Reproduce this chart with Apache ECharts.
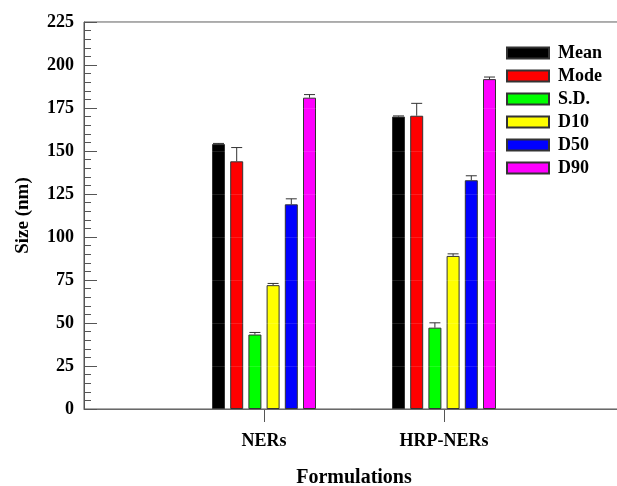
<!DOCTYPE html>
<html>
<head>
<meta charset="utf-8">
<script src="https://cdn.jsdelivr.net/npm/echarts@6/dist/echarts.min.js"></script>
<style>
  html, body { margin: 0; padding: 0; background: #fff; }
  #chart { width: 617px; height: 486px; }
</style>
</head>
<body>
<div id="chart"></div>
<script>
// categories (blank ends give the empty space either side)
const categories = ['', 'NERs', 'HRP-NERs', '']
const seriesNames = ['Mean', 'Mode', 'S.D.', 'D10', 'D50', 'D90']
const seriesColors = ['#000000', '#ff0000', '#00ff00', '#ffff00', '#0000ff', '#ff00ff']

// values per formulation: [NERs, HRP-NERs]
const meanValues = [154, 170]
const modeValues = [144, 170.5]
const sdValues = [43.3, 47.3]
const d10Values = [72, 89]
const d50Values = [119, 133]
const d90Values = [181, 191.8]

// upper error (nm)
const meanErrors = [0.4, 0.4]
const modeErrors = [8, 7.2]
const sdErrors = [1.2, 2.8]
const d10Errors = [1, 1.2]
const d50Errors = [3.2, 2.6]
const d90Errors = [1.8, 1.2]

const allValues = [meanValues, modeValues, sdValues, d10Values, d50Values, d90Values]
const allErrors = [meanErrors, modeErrors, sdErrors, d10Errors, d50Errors, d90Errors]

const BAR_WIDTH = 13
const BAR_GAP = 5.2
const FONT = 'Liberation Serif'

const chart = echarts.init(document.getElementById('chart'))

const barSeries = seriesNames.map((name, i) => ({
  name: name,
  type: 'bar',
  data: [null, allValues[i][0], allValues[i][1], null],
  barWidth: BAR_WIDTH,
  barGap: (BAR_GAP / BAR_WIDTH * 100).toFixed(0) + '%',
  itemStyle: {
    color: seriesColors[i],
    borderColor: '#333',
    borderWidth: 1
  },
  z: 2
}))

// error bar data: [category index, series index, value, error]
const errorData = []
allValues.forEach((vals, s) => {
  vals.forEach((v, c) => {
    errorData.push([c + 1, s, v, allErrors[s][c]])
  })
})

const errorSeries = {
  type: 'custom',
  name: 'error',
  data: errorData,
  encode: { x: 0, y: 2 },
  z: 5,
  renderItem: (params, api) => {
    const cat = api.value(0)
    const s = api.value(1)
    const offset = (s - (seriesNames.length - 1) / 2) * (BAR_WIDTH + BAR_GAP)
    const base = api.coord([cat, api.value(2)])
    const top = api.coord([cat, api.value(2) + api.value(3)])
    const x = base[0] + offset
    const half = BAR_WIDTH / 2 - 1
    return {
      type: 'group',
      children: [
        {
          type: 'line',
          shape: { x1: x, y1: base[1], x2: x, y2: top[1] },
          style: { stroke: '#333', lineWidth: 1 }
        },
        {
          type: 'line',
          shape: { x1: x - half, y1: top[1], x2: x + half, y2: top[1] },
          style: { stroke: '#333', lineWidth: 1 }
        }
      ]
    }
  }
}

const option = {
  animation: false,
  backgroundColor: '#fff',
  textStyle: { fontFamily: FONT },
  grid: {
    left: 84,
    top: 22,
    width: 540,
    height: 387,
    containLabel: false,
    outerBoundsMode: 'none',
    show: true,
    borderColor: '#555',
    borderWidth: 1
  },
  legend: {
    data: seriesNames,
    orient: 'vertical',
    left: 501,
    top: 39,
    itemWidth: 42,
    itemHeight: 11,
    itemGap: 5,
    icon: 'rect',
    textStyle: {
      fontFamily: FONT,
      fontWeight: 'bold',
      fontSize: 18,
      color: '#000',
      padding: [0, 0, 0, 4]
    }
  },
  xAxis: {
    type: 'category',
    data: categories,
    boundaryGap: false,
    name: 'Formulations',
    nameLocation: 'middle',
    nameGap: 59,
    nameTextStyle: { fontFamily: FONT, fontWeight: 'bold', fontSize: 20, color: '#000' },
    axisLine: { lineStyle: { color: '#555', width: 1 } },
    axisTick: {
      show: true,
      length: 13,
      interval: (index, value) => value !== '',
      lineStyle: { color: '#555' }
    },
    axisLabel: {
      interval: 0,
      margin: 23,
      fontFamily: FONT,
      fontWeight: 'bold',
      fontSize: 18,
      color: '#000'
    },
    splitLine: { show: false }
  },
  yAxis: {
    type: 'value',
    min: 0,
    max: 225,
    interval: 25,
    z: 3,
    name: 'Size (nm)',
    nameLocation: 'middle',
    nameGap: 51,
    nameTextStyle: { fontFamily: FONT, fontWeight: 'bold', fontSize: 19, color: '#000' },
    axisLine: { show: true, lineStyle: { color: '#555', width: 1 } },
    axisTick: { show: true, inside: true, length: 13, lineStyle: { color: '#555' } },
    minorTick: { show: true, splitNumber: 5, length: 7, lineStyle: { color: '#555' } },
    axisLabel: {
      margin: 10,
      fontFamily: FONT,
      fontWeight: 'bold',
      fontSize: 18,
      color: '#000'
    },
    splitLine: { show: true, lineStyle: { color: 'rgba(255,255,255,0.12)', width: 1 } }
  },
  series: [...barSeries, errorSeries]
}

chart.setOption(option)
</script>
</body>
</html>
